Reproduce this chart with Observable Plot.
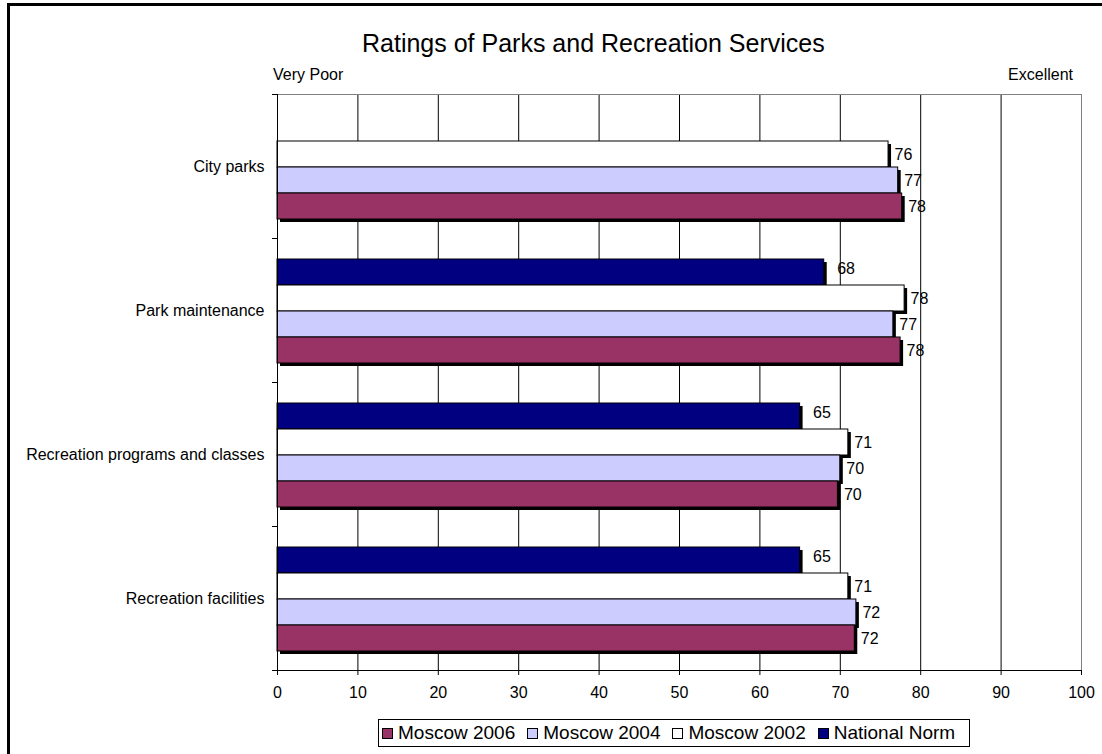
<!DOCTYPE html>
<html>
<head>
<meta charset="utf-8">
<script src="https://cdn.jsdelivr.net/npm/d3@7"></script>
<script src="https://cdn.jsdelivr.net/npm/@observablehq/plot@0.6"></script>
<style>
  body { margin: 0; background: #fff; font-family: "Liberation Sans", Arial, sans-serif; }
  #page { position: relative; width: 1102px; height: 754px; overflow: hidden; background: #fff; }
  #border { position: absolute; left: 7px; top: 3px; width: 1200px; height: 900px; border: 3px solid #000; box-sizing: border-box; }
  #title { position: absolute; left: 362px; top: 31px; font-size: 25px; line-height: 25px; white-space: nowrap; color: #000; }
  .end { position: absolute; font-size: 16px; line-height: 16px; top: 67px; white-space: nowrap; color: #000; }
  #poor { left: 273px; }
  #excellent { right: 29px; }
  #chart { position: absolute; left: 0; top: 85px; }
  #legend { position: absolute; left: 378px; top: 719px; width: 592px; height: 28px; border: 1px solid #000; box-sizing: border-box;
            display: flex; align-items: center; padding-left: 3px; gap: 12px; font-size: 19px; white-space: nowrap; }
  .item { display: flex; align-items: center; gap: 5px; }
  .sw { width: 11px; height: 11px; border: 1px solid #000; box-sizing: border-box; }
</style>
</head>
<body>
<div id="page">
  <div id="border"></div>
  <div id="title">Ratings of Parks and Recreation Services</div>
  <div class="end" id="poor">Very Poor</div>
  <div class="end" id="excellent">Excellent</div>
  <div id="chart"></div>
  <div id="legend"></div>
</div>
<script>
// ---- data ----
const categories = ["City parks", "Park maintenance", "Recreation programs and classes", "Recreation facilities"];
const seriesNames = ["National Norm", "Moscow 2002", "Moscow 2004", "Moscow 2006"];
const legendOrder = ["Moscow 2006", "Moscow 2004", "Moscow 2002", "National Norm"];
const seriesColors = ["#000080", "#FFFFFF", "#CCCCFF", "#993366"];
const nationalNorm = [null, 68.0, 65.0, 65.0];
const moscow2002 = [76.0, 78.0, 71.0, 71.0];
const moscow2004 = [77.2, 76.6, 70.0, 72.0];
const moscow2006 = [77.7, 77.5, 69.7, 71.8];
const xTicks = [0, 10, 20, 30, 40, 50, 60, 70, 80, 90, 100];
const gridTicks = [10, 20, 30, 40, 50, 60, 70, 80, 90];

const seriesValues = {
  "National Norm": nationalNorm,
  "Moscow 2002": moscow2002,
  "Moscow 2004": moscow2004,
  "Moscow 2006": moscow2006
};
const rows = [];
categories.forEach((c, i) => {
  seriesNames.forEach(s => {
    const v = seriesValues[s][i];
    if (v != null) rows.push({category: c, series: s, value: v});
  });
});
const fmt = d3.format(".0f");

const chart = Plot.plot({
  width: 1102,
  height: 615,
  marginLeft: 277,
  marginRight: 21,
  marginTop: 8,
  marginBottom: 29,
  style: {fontFamily: '"Liberation Sans", Arial, sans-serif', fontSize: "16px", color: "#000", background: "transparent"},
  x: {domain: [0, 100], ticks: xTicks, tickSize: 5, tickPadding: 11, label: null, tickFormat: d3.format("d")},
  fy: {domain: categories, padding: 0, label: null, tickSize: 0, tickPadding: 13},
  y: {domain: seriesNames, padding: 0, insetTop: 21, insetBottom: 19, axis: null},
  color: {domain: seriesNames, range: seriesColors},
  marks: [
    Plot.ruleX(gridTicks, {stroke: "#000", strokeWidth: 1}),
    Plot.ruleX([100], {stroke: "#808080", strokeWidth: 1}),
    Plot.barX(rows, {x: "value", y: "series", fy: "category", fill: "#000", dx: 3, dy: 3}),
    Plot.barX(rows, {x: "value", y: "series", fy: "category", fill: "series", stroke: "#000", strokeWidth: 1}),
    Plot.text(rows, {filter: d => d.series !== "National Norm", x: "value", y: "series", fy: "category",
      text: d => fmt(d.value), textAnchor: "start", dx: 6, fontSize: 16, fill: "#000"}),
    Plot.text(rows, {filter: d => d.series === "National Norm", x: "value", y: "series", fy: "category",
      text: d => fmt(d.value), textAnchor: "start", dx: 13, dy: -4, fontSize: 16, fill: "#000"})
  ]
});

// axis lines, plot-area top border and category boundary ticks, from Plot's own scales
const sx = chart.scale("x"), sfy = chart.scale("fy");
const x0 = sx.apply(0), x100 = sx.apply(100);
const bw = sfy.bandwidth;
const tops = categories.map(c => sfy.apply(c));
const yTop = tops[0], yBottom = tops[tops.length - 1] + bw;
const g = d3.select(chart).append("g").attr("shape-rendering", "crispEdges");
g.append("line").attr("x1", x0).attr("x2", x100).attr("y1", yTop).attr("y2", yTop).attr("stroke", "#808080");
g.append("line").attr("x1", x0).attr("x2", x0).attr("y1", yTop).attr("y2", yBottom).attr("stroke", "#000");
g.append("line").attr("x1", x0 - 5).attr("x2", x100).attr("y1", yBottom).attr("y2", yBottom).attr("stroke", "#000");
tops.forEach(t => {
  g.append("line").attr("x1", x0 - 5).attr("x2", x0).attr("y1", t).attr("y2", t).attr("stroke", "#000");
});
document.getElementById("chart").appendChild(chart);

// legend
const legend = document.getElementById("legend");
legendOrder.forEach(s => {
  const item = document.createElement("div");
  item.className = "item";
  const sw = document.createElement("div");
  sw.className = "sw";
  sw.style.background = seriesColors[seriesNames.indexOf(s)];
  const label = document.createElement("span");
  label.textContent = s;
  item.appendChild(sw);
  item.appendChild(label);
  legend.appendChild(item);
});
</script>
</body>
</html>
